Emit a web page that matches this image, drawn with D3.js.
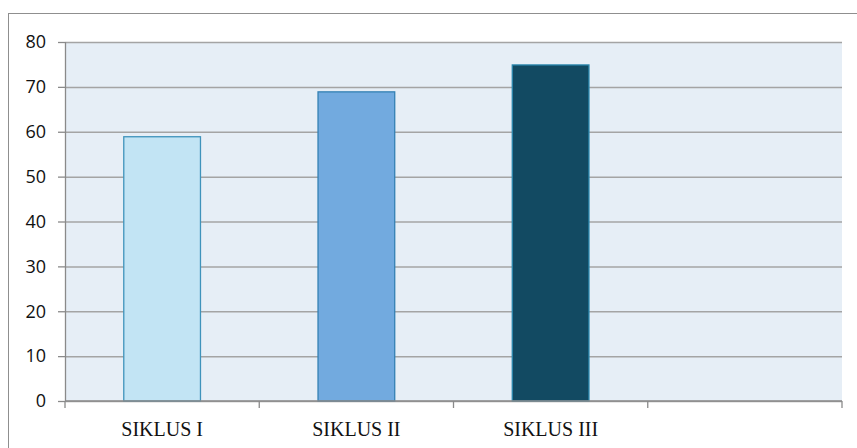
<!DOCTYPE html>
<html>
<head>
<meta charset="utf-8">
<script src="https://cdn.jsdelivr.net/npm/d3@7"></script>
<style>
  html, body { margin: 0; padding: 0; background: #ffffff; }
  svg { display: block; }
</style>
</head>
<body>
<svg id="chart" width="857" height="448"></svg>
<script>
// Data
const categories = ["SIKLUS I", "SIKLUS II", "SIKLUS III", ""];
const values = [59, 69, 75, null];
const yTicks = [0, 10, 20, 30, 40, 50, 60, 70, 80];
const barFills = ["#c2e4f4", "#72aadf", "#124a62"];
const barStrokes = ["#3f93bb", "#3380b4", "#2a87ad"];

const W = 857, H = 448;
const margin = { top: 42, right: 15, bottom: 47, left: 65 };
const innerW = W - margin.left - margin.right;
const innerH = H - margin.top - margin.bottom;

const svg = d3.select("#chart");

// outer frame (runs off the right and bottom edges)
svg.append("rect")
  .attr("x", 8.5).attr("y", 13.5)
  .attr("width", 900).attr("height", 500)
  .attr("fill", "#ffffff")
  .attr("stroke", "#8f8f8f").attr("stroke-width", 1);

const g = svg.append("g").attr("transform", `translate(${margin.left},${margin.top})`);

const y = d3.scaleLinear().domain([0, 80]).range([innerH, 0]);
const xCat = d3.scaleBand().domain(categories).range([0, innerW]).padding(0);
const xBar = d3.scaleBand().domain(categories).range([0, innerW])
  .paddingInner(0.6).paddingOuter(0.3);

// plot background
g.append("rect")
  .attr("width", innerW).attr("height", innerH)
  .attr("fill", "#e6eef6");

// horizontal gridlines
g.append("g")
  .call(d3.axisLeft(y).tickValues(yTicks).tickSize(-innerW).tickFormat(""))
  .call(a => a.select(".domain").remove())
  .call(a => a.selectAll("line").attr("stroke", "#a4a4a4").attr("stroke-width", 1.5));

// bars
g.selectAll("rect.bar")
  .data(categories.map((c, i) => ({ c, v: values[i], i })).filter(d => d.v != null))
  .join("rect")
  .attr("class", "bar")
  .attr("x", d => xBar(d.c) + 0.5)
  .attr("y", d => y(d.v) + 0.5)
  .attr("width", xBar.bandwidth() - 1)
  .attr("height", d => innerH - y(d.v) - 0.5)
  .attr("fill", d => barFills[d.i])
  .attr("stroke", d => barStrokes[d.i])
  .attr("stroke-width", 1.3);

// y axis
const yAxis = g.append("g")
  .call(d3.axisLeft(y).tickValues(yTicks).tickSize(7).tickPadding(12));
yAxis.select(".domain").attr("stroke", "#8a8a8a").attr("stroke-width", 1.3)
  .attr("d", `M0.5,0V${innerH}`);
yAxis.selectAll(".tick line").attr("stroke", "#8a8a8a").attr("stroke-width", 1.3);
yAxis.selectAll("text")
  .attr("font-family", "'Open Sans', sans-serif")
  .attr("font-size", 18)
  .attr("fill", "#111");

// x axis: baseline, boundary ticks, centred labels
const xAxis = g.append("g").attr("transform", `translate(0,${innerH})`);
xAxis.append("line")
  .attr("x1", 0).attr("x2", innerW)
  .attr("stroke", "#8a8a8a").attr("stroke-width", 1.5);
const bounds = categories.map(c => xCat(c)).concat([innerW]);
xAxis.selectAll("line.bound")
  .data(bounds)
  .join("line")
  .attr("class", "bound")
  .attr("x1", d => d).attr("x2", d => d)
  .attr("y1", 0).attr("y2", 7)
  .attr("stroke", "#8a8a8a").attr("stroke-width", 1.3);
xAxis.selectAll("text")
  .data(categories)
  .join("text")
  .attr("x", c => xCat(c) + xCat.bandwidth() / 2)
  .attr("y", 35)
  .attr("text-anchor", "middle")
  .attr("font-family", "'Liberation Serif', 'Times New Roman', serif")
  .attr("font-size", 20)
  .attr("fill", "#111")
  .text(c => c);
</script>
</body>
</html>
